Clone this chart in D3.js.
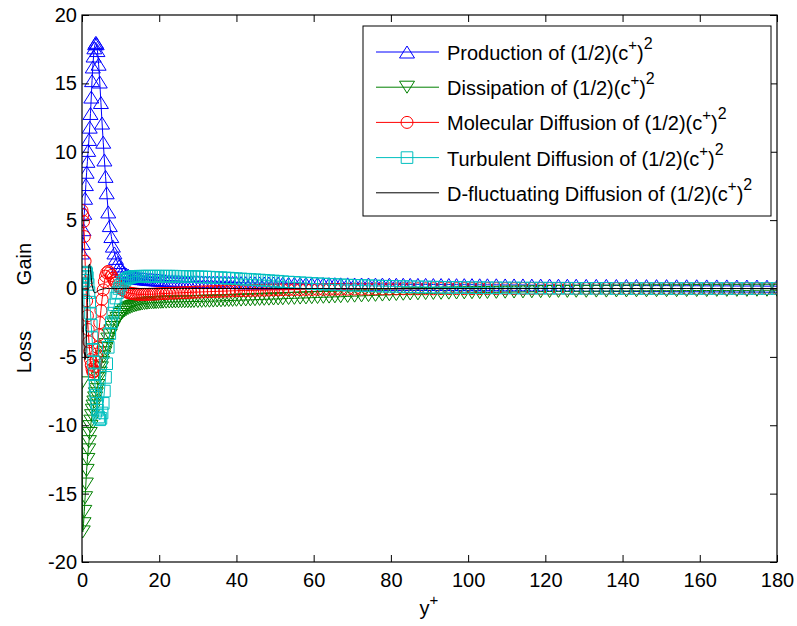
<!DOCTYPE html>
<html>
<head>
<meta charset="utf-8">
<script src="https://cdn.jsdelivr.net/npm/d3@7"></script>
<style>
  html, body { margin: 0; padding: 0; background: #fff; }
  svg { display: block; }
  text { font-family: "Liberation Sans", Arial, Helvetica, sans-serif; fill: #000; }
</style>
</head>
<body>
<svg id="chart" width="797" height="626"></svg>
<script>
// Wall-normal positions (y+) of the grid points, half channel
const yPlus = [
  0,0.2,0.4,0.6,0.8,1.0,1.2,1.4,1.6,1.8,2.0,2.2,2.4,2.6,2.8,3.0,3.2,3.4,3.6,3.8,4.0,
  4.3,4.6,4.9,5.2,5.5,5.8,6.1,
  6.4,6.8,7.2,7.6,8.0,8.4,8.8,9.2,9.6,10.0,
  10.5,11,11.5,12,12.5,13,13.5,14,14.5,15,
  15.6,16.2,16.8,17.4,18.0,18.6,19.2,19.8,20.4,21,
  21.8,22.6,23.4,24.2,25,25.8,26.6,27.4,28.2,29,
  30,31,32,33,34,35,36,37,38,39,40,
  41.2,42.4,43.6,44.8,46,47.2,48.4,49.6,50.8,52,
  53.5,55,56.5,58,59.5,61,62.5,64,65.5,67,
  68.8,70.6,72.4,74.2,76,77.8,79.6,81.4,83.2,85,
  87,89,91,93,95,97,99,101,103,105,
  107.3,109.6,111.9,114.2,116.5,118.8,121.1,123.4,125.7,128,
  130.6,133.2,135.8,138.4,141,143.6,146.2,148.8,151.4,154,
  156.6,159.2,161.8,164.4,167,169.6,172.2,174.8,177.4,180
];

// Budget terms of (1/2)(c+)^2
const production = [
  2.6,3.3,4.3,5.5,6.6,7.6,8.5,9.3,10.1,10.9,11.8,12.8,14.0,15.2,16.2,17.0,17.6,17.9,18.0,17.9,17.4,
  16.4,15.1,13.6,12.1,10.7,9.4,8.2,
  7.0,5.6,4.6,3.8,3.1,2.6,2.2,1.9,1.65,1.45,
  1.28,1.15,1.05,0.97,0.91,0.86,0.82,0.79,0.76,0.74,
  0.72,0.70,0.68,0.66,0.65,0.64,0.63,0.62,0.61,0.60,
  0.59,0.58,0.57,0.56,0.55,0.54,0.53,0.52,0.51,0.50,
  0.49,0.48,0.47,0.47,0.46,0.46,0.45,0.45,0.44,0.44,0.43,
  0.43,0.42,0.42,0.41,0.41,0.40,0.40,0.40,0.39,0.39,
  0.38,0.38,0.37,0.37,0.36,0.36,0.35,0.35,0.35,0.34,
  0.34,0.33,0.33,0.33,0.32,0.32,0.31,0.31,0.31,0.30,
  0.30,0.30,0.29,0.29,0.29,0.28,0.28,0.28,0.27,0.27,
  0.27,0.26,0.26,0.26,0.25,0.25,0.25,0.24,0.24,0.24,
  0.23,0.23,0.23,0.22,0.22,0.22,0.21,0.21,0.21,0.20,
  0.20,0.20,0.19,0.19,0.19,0.18,0.18,0.18,0.17,0.17
];

const dissipation = [
  -6.9,-17.8,-17.2,-16.3,-15.3,-14.3,-13.3,-12.5,-11.8,-11.2,-10.6,-10.1,-9.7,-9.3,-8.9,-8.6,-8.3,-8.0,-7.7,-7.4,-7.1,
  -6.6,-6.2,-5.8,-5.4,-5.0,-4.7,-4.4,
  -4.1,-3.7,-3.4,-3.1,-2.85,-2.6,-2.4,-2.2,-2.05,-1.9,
  -1.75,-1.63,-1.53,-1.45,-1.38,-1.32,-1.27,-1.23,-1.19,-1.16,
  -1.13,-1.10,-1.08,-1.06,-1.05,-1.04,-1.03,-1.02,-1.01,-1.00,
  -1.00,-0.99,-0.99,-0.98,-0.98,-0.97,-0.97,-0.96,-0.96,-0.95,
  -0.95,-0.94,-0.93,-0.93,-0.92,-0.91,-0.90,-0.89,-0.88,-0.87,-0.86,
  -0.85,-0.84,-0.83,-0.82,-0.80,-0.79,-0.78,-0.77,-0.76,-0.75,
  -0.73,-0.72,-0.70,-0.69,-0.67,-0.66,-0.64,-0.63,-0.61,-0.60,
  -0.58,-0.56,-0.54,-0.52,-0.50,-0.48,-0.46,-0.44,-0.42,-0.40,
  -0.39,-0.37,-0.36,-0.35,-0.34,-0.33,-0.32,-0.31,-0.30,-0.29,
  -0.28,-0.27,-0.26,-0.25,-0.24,-0.23,-0.22,-0.21,-0.21,-0.20,
  -0.20,-0.19,-0.19,-0.18,-0.18,-0.17,-0.17,-0.16,-0.16,-0.16,
  -0.15,-0.15,-0.15,-0.14,-0.14,-0.14,-0.14,-0.13,-0.13,-0.13
];

const molecularDiffusion = [
  5.7,5.4,4.9,3.8,2.0,0.4,-0.9,-2.0,-3.0,-3.9,-4.6,-5.2,-5.6,-5.9,-6.1,-6.1,-6.0,-5.7,-5.3,-4.8,-4.3,
  -3.4,-2.5,-1.6,-0.8,-0.1,0.5,0.9,
  1.15,1.25,1.15,0.95,0.75,0.55,0.38,0.22,0.10,0.0,
  -0.10,-0.18,-0.25,-0.30,-0.34,-0.37,-0.39,-0.41,-0.42,-0.43,
  -0.43,-0.43,-0.43,-0.42,-0.42,-0.41,-0.40,-0.39,-0.38,-0.37,
  -0.36,-0.35,-0.34,-0.33,-0.32,-0.31,-0.30,-0.29,-0.28,-0.27,
  -0.26,-0.25,-0.24,-0.23,-0.22,-0.21,-0.20,-0.19,-0.18,-0.17,-0.16,
  -0.15,-0.15,-0.14,-0.13,-0.12,-0.12,-0.11,-0.10,-0.10,-0.09,
  -0.09,-0.08,-0.08,-0.07,-0.07,-0.06,-0.06,-0.06,-0.05,-0.05,
  -0.05,-0.04,-0.04,-0.04,-0.03,-0.03,-0.03,-0.03,-0.02,-0.02,
  -0.02,-0.02,-0.02,-0.01,-0.01,-0.01,-0.01,-0.01,-0.01,-0.01,
  -0.01,-0.01,-0.01,0,0,0,0,0,0,0,
  0,0,0,0,0,0,0,0,0,0,
  0,0,0,0,0,0,0,0,0,0
];

const turbulentDiffusion = [
  0,0.3,0.6,0.9,1.1,1.2,1.1,0.8,0.3,-0.3,-1.0,-1.8,-2.7,-3.6,-4.5,-5.4,-6.3,-7.1,-7.8,-8.4,-8.9,
  -9.4,-9.6,-9.5,-9.1,-8.4,-7.5,-6.5,
  -5.5,-4.3,-3.3,-2.5,-1.8,-1.2,-0.7,-0.3,0.0,0.25,
  0.45,0.60,0.70,0.77,0.82,0.85,0.87,0.88,0.89,0.90,
  0.90,0.90,0.90,0.90,0.90,0.90,0.90,0.90,0.90,0.90,
  0.90,0.90,0.90,0.90,0.89,0.89,0.88,0.88,0.87,0.87,
  0.86,0.85,0.84,0.83,0.82,0.80,0.79,0.77,0.76,0.74,0.72,
  0.70,0.68,0.66,0.64,0.62,0.60,0.57,0.55,0.53,0.50,
  0.47,0.45,0.42,0.40,0.37,0.35,0.33,0.31,0.29,0.27,
  0.25,0.23,0.22,0.20,0.19,0.17,0.16,0.15,0.14,0.13,
  0.12,0.11,0.10,0.09,0.08,0.08,0.07,0.06,0.06,0.05,
  0.05,0.04,0.04,0.03,0.03,0.03,0.02,0.02,0.02,0.01,
  0.01,0.01,0.01,0,0,0,0,0,0,0,
  0,0,0,0,0,0,0,0,0,0
];

const dFluctDiffusion = [
  0,-1.5,-3.2,-4.6,-5.2,-4.6,-3.0,-1.0,0.8,1.7,1.8,1.4,0.8,0.3,0.0,-0.2,-0.3,-0.3,-0.3,-0.25,-0.2,
  -0.15,-0.1,-0.08,-0.05,-0.03,-0.02,-0.01,
  0,0,0,0,0,0,0,0,0,0,
  0,0,0,0,0,0,0,0,0,0,
  0,0,0,0,0,0,0,0,0,0,
  0,0,0,0,0,0,0,0,0,0,
  0,0,0,0,0,0,0,0,0,0,0,
  0,0,0,0,0,0,0,0,0,0,
  0,0,0,0,0,0,0,0,0,0,
  0,0,0,0,0,0,0,0,0,0,
  0,0,0,0,0,0,0,0,0,0,
  0,0,0,0,0,0,0,0,0,0,
  0,0,0,0,0,0,0,0,0,0,
  0,0,0,0,0,0,0,0,0,0
];

const legendLabels = [
  "Production of ", "Dissipation of ", "Molecular Diffusion of ",
  "Turbulent Diffusion of ", "D-fluctuating Diffusion of "
];
const xTicks = [0, 20, 40, 60, 80, 100, 120, 140, 160, 180];
const yTicks = [-20, -15, -10, -5, 0, 5, 10, 15, 20];

const series = [
  { values: production, color: "#0000ff", marker: "up" },
  { values: dissipation, color: "#008000", marker: "down" },
  { values: molecularDiffusion, color: "#ff0000", marker: "circle" },
  { values: turbulentDiffusion, color: "#00bfbf", marker: "square" },
  { values: dFluctDiffusion, color: "#000000", marker: "none" }
];

const svg = d3.select("#chart");
const plot = { left: 82, right: 777, top: 15, bottom: 562 };

const x = d3.scaleLinear().domain([0, 180]).range([plot.left, plot.right]);
const y = d3.scaleLinear().domain([-20, 20]).range([plot.bottom, plot.top]);

svg.append("rect").attr("x", 0).attr("y", 0).attr("width", 797).attr("height", 626).attr("fill", "#fff");

// marker path generators centred on (0,0)
function markerPath(kind) {
  if (kind === "up") return "M0,-6L7.5,6L-7.5,6Z";
  if (kind === "down") return "M0,6L7.5,-6L-7.5,-6Z";
  if (kind === "square") return "M-5.8,-5.8H5.8V5.8H-5.8Z";
  if (kind === "circle") return "M6,0A6,6 0 1,1 -6,0A6,6 0 1,1 6,0Z";
  return null;
}

svg.append("clipPath").attr("id", "plotclip")
  .append("rect").attr("x", plot.left).attr("y", plot.top)
  .attr("width", plot.right - plot.left).attr("height", plot.bottom - plot.top);

const dataLayer = svg.append("g").attr("clip-path", "url(#plotclip)");

const line = d3.line().x((d, i) => x(yPlus[i])).y(d => y(d));

series.forEach(s => {
  const g = dataLayer.append("g");
  g.append("path").datum(s.values)
    .attr("d", line)
    .attr("fill", "none")
    .attr("stroke", s.color)
    .attr("stroke-width", 1);
  const mp = markerPath(s.marker);
  if (mp) {
    g.selectAll("path.mk").data(s.values).join("path")
      .attr("class", "mk")
      .attr("d", mp)
      .attr("transform", (d, i) => `translate(${x(yPlus[i])},${y(d)})`)
      .attr("fill", "none")
      .attr("stroke", s.color)
      .attr("stroke-width", 1);
  }
});

// axes: box with inward ticks on all sides, plain hyphen minus signs
const tickLen = 7;
const axisFont = "20px";
const plain = d => String(d);

const xAxisB = d3.axisBottom(x).tickValues(xTicks).tickFormat(plain).tickSizeInner(-tickLen).tickSizeOuter(0).tickPadding(11);
const xAxisT = d3.axisTop(x).tickValues(xTicks).tickSizeInner(-tickLen).tickSizeOuter(0).tickFormat("");
const yAxisL = d3.axisLeft(y).tickValues(yTicks).tickFormat(plain).tickSizeInner(-tickLen).tickSizeOuter(0).tickPadding(5);
const yAxisR = d3.axisRight(y).tickValues(yTicks).tickSizeInner(-tickLen).tickSizeOuter(0).tickFormat("");

function styleAxis(g) {
  g.select(".domain").remove();
  g.selectAll("line").attr("stroke", "#000").attr("stroke-width", 1);
  g.selectAll("text").style("font-size", axisFont).attr("fill", "#000");
}

svg.append("g").attr("transform", `translate(0,${plot.bottom})`).call(xAxisB).call(styleAxis);
svg.append("g").attr("transform", `translate(0,${plot.top})`).call(xAxisT).call(styleAxis);
svg.append("g").attr("transform", `translate(${plot.left},0)`).call(yAxisL).call(styleAxis);
svg.append("g").attr("transform", `translate(${plot.right},0)`).call(yAxisR).call(styleAxis);

svg.append("rect")
  .attr("x", plot.left).attr("y", plot.top)
  .attr("width", plot.right - plot.left).attr("height", plot.bottom - plot.top)
  .attr("fill", "none").attr("stroke", "#000").attr("stroke-width", 1.2);

// x label y+
const xl = svg.append("text").attr("x", 429).attr("y", 615)
  .attr("text-anchor", "middle").style("font-size", "20px");
xl.append("tspan").text("y");
xl.append("tspan").attr("dy", -10).style("font-size", "15px").text("+");

// y labels: Gain / Loss
svg.append("text").attr("transform", "translate(31,264) rotate(-90)")
  .attr("text-anchor", "middle").style("font-size", "20px").text("Gain");
svg.append("text").attr("transform", "translate(31,352) rotate(-90)")
  .attr("text-anchor", "middle").style("font-size", "20px").text("Loss");

// legend
const lg = svg.append("g");
lg.append("rect").attr("x", 363).attr("y", 26).attr("width", 408).attr("height", 190)
  .attr("fill", "#fff").attr("stroke", "#000").attr("stroke-width", 1);

series.forEach((s, i) => {
  const cy = 52 + i * 35.2;
  lg.append("line").attr("x1", 376).attr("x2", 439).attr("y1", cy).attr("y2", cy)
    .attr("stroke", s.color).attr("stroke-width", 1);
  const mp = markerPath(s.marker);
  if (mp) {
    lg.append("path").attr("d", mp).attr("transform", `translate(407,${cy})`)
      .attr("fill", "none").attr("stroke", s.color).attr("stroke-width", 1);
  }
  const t = lg.append("text").attr("x", 447).attr("y", cy + 8).style("font-size", "20px");
  t.append("tspan").text(legendLabels[i] + "(1/2)(c");
  t.append("tspan").attr("dy", -10).style("font-size", "15px").text("+");
  t.append("tspan").attr("dy", 10).text(")");
  t.append("tspan").attr("dy", -11).style("font-size", "16px").text("2");
});
</script>
</body>
</html>
